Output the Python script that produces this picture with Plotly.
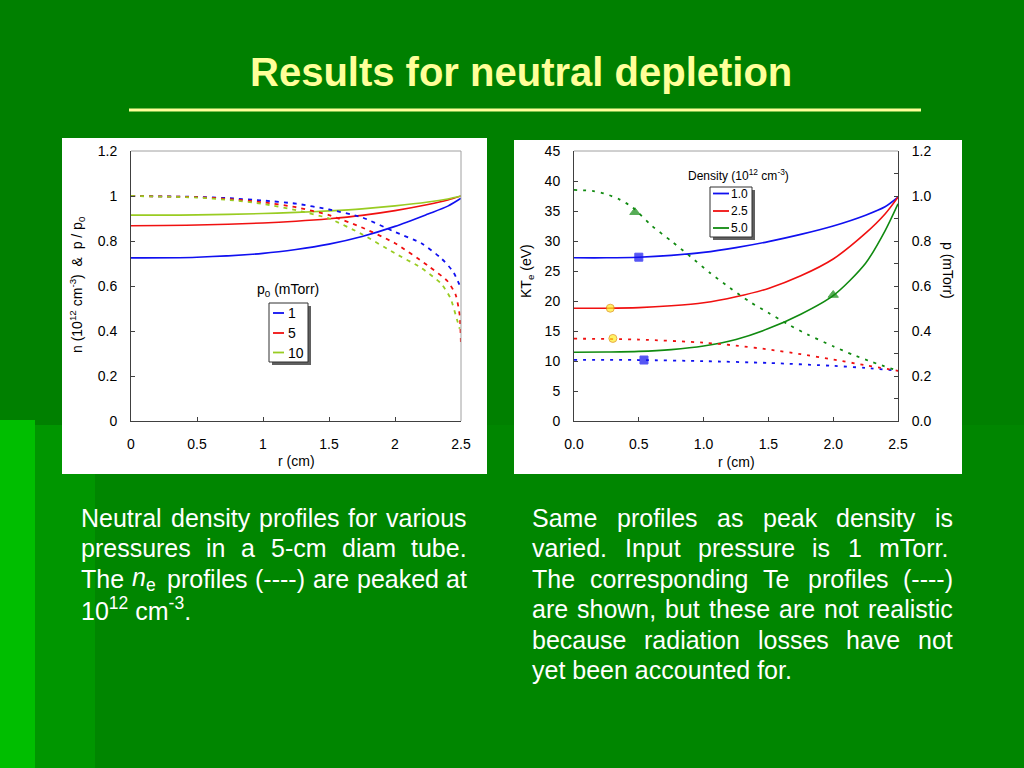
import re
import plotly.graph_objects as go

W, H = 1024, 768
def px(x): return x / W
def py(y): return 1 - y / H

FONT = "Liberation Sans, Arial, sans-serif"

# ---------------- Left chart data ----------------
r_solid = [0, 0.5, 1.0, 1.25, 1.5, 1.75, 2.0, 2.25, 2.4, 2.5]
p_ratio_1 = [0.725, 0.728, 0.745, 0.762, 0.786, 0.82, 0.865, 0.92, 0.955, 0.99]
p_ratio_5 = [0.868, 0.871, 0.880, 0.888, 0.899, 0.914, 0.935, 0.962, 0.982, 1.0]
p_ratio_10 = [0.915, 0.916, 0.922, 0.927, 0.934, 0.943, 0.956, 0.973, 0.987, 1.0]

r_n1 = [0, 0.5, 0.75, 1.0, 1.25, 1.5, 1.75, 2.0, 2.2, 2.35, 2.44, 2.5]
n_1 = [1.0, 0.996, 0.99, 0.98, 0.966, 0.94, 0.905, 0.84, 0.79, 0.723, 0.664, 0.59]
r_n5 = [0, 0.5, 0.75, 1.0, 1.25, 1.5, 1.75, 2.0, 2.25, 2.4, 2.46, 2.49, 2.5]
n_5 = [1.0, 0.995, 0.986, 0.972, 0.95, 0.915, 0.86, 0.79, 0.69, 0.62, 0.56, 0.47, 0.33]
r_n10 = [0, 0.5, 0.75, 1.0, 1.25, 1.5, 1.75, 2.0, 2.2, 2.35, 2.42, 2.47, 2.49]
n_10 = [1.0, 0.993, 0.982, 0.965, 0.937, 0.9, 0.83, 0.745, 0.68, 0.61, 0.546, 0.45, 0.41]

left_x_ticks = [0, 0.5, 1, 1.5, 2, 2.5]
left_y_ticks = [0, 0.2, 0.4, 0.6, 0.8, 1, 1.2]
left_legend_labels = ["1", "5", "10"]

# ---------------- Right chart data ----------------
r_te = [0, 0.25, 0.5, 0.75, 1.0, 1.25, 1.5, 1.75, 2.0, 2.25, 2.4, 2.5]
te_10 = [27.2, 27.2, 27.3, 27.6, 28.1, 28.9, 29.9, 31.1, 32.5, 34.3, 35.7, 37.3]
te_25 = [18.8, 18.8, 18.9, 19.2, 19.7, 20.7, 22.1, 24.2, 27.0, 31.3, 34.5, 37.3]
te_50 = [11.45, 11.5, 11.6, 11.9, 12.5, 13.6, 15.4, 17.8, 20.9, 26.3, 31.7, 36.2]

r_pb = [0, 0.5, 1.0, 1.5, 2.0, 2.25, 2.5]
p_10 = [0.272, 0.271, 0.266, 0.258, 0.245, 0.236, 0.223]
r_pr = [0, 0.5, 1.0, 1.25, 1.5, 1.75, 2.0, 2.25, 2.5]
p_25 = [0.366, 0.362, 0.348, 0.335, 0.318, 0.297, 0.273, 0.248, 0.223]
r_pg = [0, 0.15, 0.25, 0.35, 0.45, 0.6, 0.75, 0.9, 1.05, 1.2, 1.35, 1.5, 1.65, 1.8, 2.0, 2.15, 2.3, 2.5]
p_50 = [1.027, 1.022, 1.008, 0.985, 0.95, 0.868, 0.80, 0.73, 0.658, 0.593, 0.532, 0.481, 0.43, 0.385, 0.332, 0.295, 0.262, 0.223]

# marker points (r, Te) and (r, p)
mk_te_r = [0.5, 0.28, 2.0]
mk_te_v = [27.3, 18.8, 21.0]
mk_p_r = [0.54, 0.30, 0.47]
mk_p_v = [0.271, 0.367, 0.928]

right_x_ticks = [0, 0.5, 1.0, 1.5, 2.0, 2.5]
right_legend_labels = ["1.0", "2.5", "5.0"]

BLUE = "#1010F0"
RED = "#F01010"
LGREEN = "#99CC22"
DGREEN = "#108A10"

fig = go.Figure()

# left chart traces
for xs, ys, c in [(r_solid, p_ratio_1, BLUE), (r_solid, p_ratio_5, RED), (r_solid, p_ratio_10, LGREEN)]:
    fig.add_trace(go.Scatter(x=xs, y=ys, mode="lines", line=dict(color=c, width=1.6, shape="spline", smoothing=0.8),
                             xaxis="x", yaxis="y", showlegend=False, hoverinfo="skip"))
for xs, ys, c in [(r_n1, n_1, BLUE), (r_n5, n_5, RED), (r_n10, n_10, LGREEN)]:
    fig.add_trace(go.Scatter(x=xs, y=ys, mode="lines", line=dict(color=c, width=1.8, dash="4px,5px", shape="spline", smoothing=0.6),
                             xaxis="x", yaxis="y", showlegend=False, hoverinfo="skip"))

# right chart traces
for ys, c in [(te_10, BLUE), (te_25, RED), (te_50, DGREEN)]:
    fig.add_trace(go.Scatter(x=r_te, y=ys, mode="lines", line=dict(color=c, width=1.6, shape="spline", smoothing=0.8),
                             xaxis="x2", yaxis="y2", showlegend=False, hoverinfo="skip"))
for xs, ys, c in [(r_pb, p_10, BLUE), (r_pr, p_25, RED), (r_pg, p_50, DGREEN)]:
    fig.add_trace(go.Scatter(x=xs, y=ys, mode="lines", line=dict(color=c, width=1.8, dash="3px,6px", shape="spline", smoothing=0.7),
                             xaxis="x2", yaxis="y3", showlegend=False, hoverinfo="skip"))

mk_sym = ["square", "circle", "triangle-up"]
mk_fill = [BLUE, "#FFEE22", DGREEN]
mk_line = [BLUE, "#E08A00", DGREEN]
mk_size = [8, 8, 9]
fig.add_trace(go.Scatter(x=mk_te_r, y=mk_te_v, mode="markers", xaxis="x2", yaxis="y2", showlegend=False,
                         marker=dict(symbol=mk_sym, color=mk_fill, size=mk_size, line=dict(color=mk_line, width=1))))
fig.add_trace(go.Scatter(x=mk_p_r, y=mk_p_v, mode="markers", xaxis="x2", yaxis="y3", showlegend=False,
                         marker=dict(symbol=mk_sym, color=mk_fill, size=mk_size, line=dict(color=mk_line, width=1))))

tickfont = dict(family=FONT, size=14, color="black")
ax_common = dict(showgrid=False, zeroline=False, showline=True, linecolor="#404040", linewidth=1,
                 ticks="inside", ticklen=4, tickcolor="#404040", tickfont=tickfont, fixedrange=True,
                 automargin=False)

fig.update_layout(
    width=W, height=H, autosize=False, margin=dict(l=0, r=0, t=0, b=0, pad=0, autoexpand=False),
    paper_bgcolor="#008000", plot_bgcolor="white",
    xaxis=dict(domain=[px(131), px(461)], range=[0, 2.5], anchor="y", tickvals=left_x_ticks,
               ticktext=[f"{v:g}" for v in left_x_ticks], ticklabelstandoff=10, **ax_common),
    yaxis=dict(domain=[py(421), py(151)], range=[0, 1.2], anchor="x", tickvals=left_y_ticks,
               ticktext=[f"{v:g}" for v in left_y_ticks], ticklabelstandoff=10, **ax_common),
    xaxis2=dict(domain=[px(574), px(898)], range=[0, 2.5], anchor="y2", tickvals=right_x_ticks,
                tickformat=".1f", ticklabelstandoff=10, **ax_common),
    yaxis2=dict(domain=[py(421), py(151)], range=[0, 45], anchor="x2", dtick=5, ticklabelstandoff=10, **ax_common),
    yaxis3=dict(overlaying="y2", side="right", anchor="x2", range=[0, 1.2], dtick=0.2, tickformat=".1f",
                ticklabelstandoff=10, minor=dict(dtick=0.1, ticks="inside", ticklen=4, tickcolor="#404040"),
                **ax_common),
)

shapes = []
# background decoration
shapes.append(dict(type="rect", xref="paper", yref="paper", x0=px(0), x1=px(1024), y0=py(768), y1=py(425),
                   fillcolor="#008600", line=dict(width=0), layer="below"))
shapes.append(dict(type="rect", xref="paper", yref="paper", x0=px(35), x1=px(95), y0=py(768), y1=py(425),
                   fillcolor="#009600", line=dict(width=0), layer="below"))
shapes.append(dict(type="rect", xref="paper", yref="paper", x0=px(0), x1=px(35), y0=py(768), y1=py(420),
                   fillcolor="#00BE00", line=dict(width=0), layer="below"))
# white panels
shapes.append(dict(type="rect", xref="paper", yref="paper", x0=px(62), x1=px(487), y0=py(474), y1=py(138),
                   fillcolor="white", line=dict(width=0), layer="below"))
shapes.append(dict(type="rect", xref="paper", yref="paper", x0=px(514), x1=px(962), y0=py(474), y1=py(140),
                   fillcolor="white", line=dict(width=0), layer="below"))
# title underline
shapes.append(dict(type="line", xref="paper", yref="paper", x0=px(129), x1=px(921), y0=py(110), y1=py(110),
                   line=dict(color="#FFFF99", width=3)))
# frames (top/right borders)
for xr, yr in [("x domain", "y domain"), ("x2 domain", "y2 domain")]:
    shapes.append(dict(type="line", xref=xr, yref=yr, x0=0, x1=1, y0=1, y1=1, line=dict(color="#A0A0A0", width=1)))
shapes.append(dict(type="line", xref="x domain", yref="y domain", x0=1, x1=1, y0=0, y1=1, line=dict(color="#A0A0A0", width=1)))

annotations = []
def ann(text, x, y, size, color="black", xanchor="center", yanchor="middle", angle=0, bold=False):
    annotations.append(dict(text=f"<b>{text}</b>" if bold else text, x=px(x), y=py(y), xref="paper", yref="paper",
                            showarrow=False, xanchor=xanchor, yanchor=yanchor, textangle=angle,
                            font=dict(family=FONT, size=size, color=color)))

# legends (drawn manually)
def legend(box, rows, line_x, text_x, labels, colors, size, title, title_xy):
    x0, y0, x1, y1 = box
    shapes.append(dict(type="rect", xref="paper", yref="paper", x0=px(x0 + 3), x1=px(x1 + 3), y0=py(y1 + 3), y1=py(y0 + 3),
                       fillcolor="#606060", line=dict(width=0)))
    shapes.append(dict(type="rect", xref="paper", yref="paper", x0=px(x0), x1=px(x1), y0=py(y1), y1=py(y0),
                       fillcolor="white", line=dict(color="#303030", width=1)))
    for yy, lab, c in zip(rows, labels, colors):
        shapes.append(dict(type="line", xref="paper", yref="paper", x0=px(line_x[0]), x1=px(line_x[1]), y0=py(yy), y1=py(yy),
                           line=dict(color=c, width=1.8)))
        ann(lab, text_x, yy, size, xanchor="left")
    ann(title, title_xy[0], title_xy[1], size)

legend((269, 303, 308, 362), [313, 333, 352.5], (273, 284), 286, left_legend_labels, [BLUE, RED, LGREEN], 14,
       "p<sub>0</sub> (mTorr)", (288, 290))
legend((710, 187, 752, 237), [193.5, 211, 228], (713, 729), 729, right_legend_labels, [BLUE, RED, DGREEN], 12,
       "Density (10<sup>12</sup> cm<sup>-3</sup>)", (738, 175))

# axis titles
ann("n (10<sup>12</sup> cm<sup>-3</sup>)  &amp;  p / p<sub>0</sub>", 77, 285, 14, angle=-90)
ann("r (cm)", 296, 461, 14)
ann("KT<sub>e</sub> (eV)", 527, 271, 14, angle=-90)
ann("p (mTorr)", 948, 270, 14, angle=90)
ann("r (cm)", 736, 462, 14)

# title
ann("Results for neutral depletion", 521, 72, 40, color="#FFFF99", bold=True)

# body text with justification
AW = {" ": 278, "a": 556, "b": 556, "c": 500, "d": 556, "e": 556, "f": 278, "g": 556, "h": 556, "i": 222,
      "j": 222, "k": 500, "l": 222, "m": 833, "n": 556, "o": 556, "p": 556, "q": 556, "r": 333, "s": 500,
      "t": 278, "u": 556, "v": 500, "w": 722, "x": 500, "y": 500, "z": 500, "A": 667, "I": 278, "N": 722,
      "S": 667, "T": 611, ".": 278, ",": 278, "-": 333, "(": 333, ")": 333}
FS = 25
def tw(s):
    s = re.sub(r"<[^>]+>", "", s)
    return sum(AW.get(ch, 556) for ch in s) * FS / 1000

def line(text, x0, x1, base, justify=True):
    yc = base - 0.3 * FS
    words = text.split(" ")
    if not justify or len(words) == 1:
        ann(text, x0 - 2, yc, FS, color="white", xanchor="left")
        return
    widths = [tw(w) for w in words]
    gap = (x1 - x0 - sum(widths)) / (len(words) - 1)
    x = x0
    for w, wd in zip(words, widths):
        ann(w, x - 2, yc, FS, color="white", xanchor="left")
        x += wd + gap

left_lines = ["Neutral density profiles for various",
              "pressures in a 5-cm diam tube.",
              "The <i>n</i><sub>e</sub> profiles (----) are peaked at"]
right_lines = ["Same profiles as peak density is",
               "varied. Input pressure is 1 mTorr.",
               "The corresponding Te profiles (----)",
               "are shown, but these are not realistic",
               "because radiation losses have not"]
BASE0, LSTEP = 525.5, 30.4
for i, t in enumerate(left_lines):
    line(t, 81, 467, BASE0 + i * LSTEP)
line("10<sup>12</sup> cm<sup>-3</sup>.", 81, 467, BASE0 + 3 * LSTEP, justify=False)
for i, t in enumerate(right_lines):
    line(t, 532, 953, BASE0 + i * LSTEP)
line("yet been accounted for.", 532, 953, BASE0 + 5 * LSTEP, justify=False)

fig.update_layout(shapes=shapes, annotations=annotations)
fig.write_html("out.html", config={"displayModeBar": False, "staticPlot": True},
               post_script="document.body.style.margin='0';document.body.style.overflow='hidden';")
